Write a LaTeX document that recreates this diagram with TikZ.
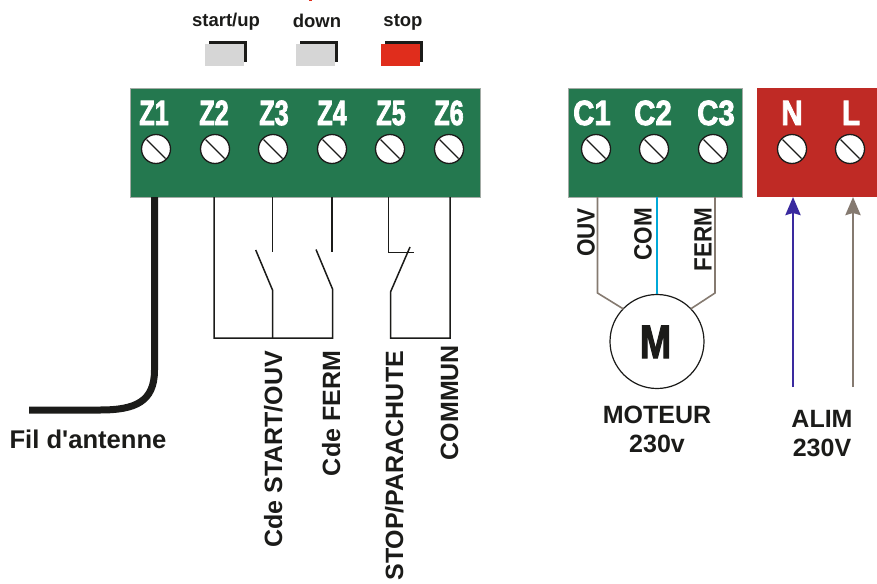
\documentclass[tikz,border=0pt]{standalone}
\usepackage{fontspec}
\setmainfont{Liberation Sans}
\newfontfamily\heavy[FakeBold=2.6]{Liberation Sans Bold}
\newfontfamily\plainbold{Liberation Sans Bold}
\usetikzlibrary{arrows.meta,calc}
\definecolor{bgreen}{HTML}{24784F}
\definecolor{bred}{HTML}{BF2A25}
\definecolor{bedge}{HTML}{A3ABA5}
\definecolor{ink}{HTML}{1B1B19}
\definecolor{btngrey}{HTML}{D6D6D6}
\definecolor{btnred}{HTML}{E02D1C}
\definecolor{wiregrey}{HTML}{857A70}
\definecolor{wirecyan}{HTML}{00A9D8}
\definecolor{wireblue}{HTML}{3A2A9F}
\newcommand{\fs}[1]{\fontsize{#1}{#1}\selectfont\bfseries}
\newcommand{\fh}[1]{\fontsize{#1}{#1}\selectfont\heavy}
\tikzset{
  block/.style={inner sep=0pt,outer sep=0pt,minimum height=109pt},
  screw/.style={circle,draw=ink,fill=white,line width=1.3pt,minimum size=29pt,inner sep=0pt,outer sep=0pt},
  tlabel/.style={anchor=base,inner sep=0pt,outer sep=0pt,text=white},
  lab/.style={anchor=base,inner sep=0pt,outer sep=0pt,text=ink},
  vlab/.style={rotate=90,anchor=base east,inner sep=0pt,outer sep=0pt,text=ink},
  sw/.style={draw=ink,line width=1.5pt,line join=miter},
  mwire/.style={draw=wiregrey,line width=1.6pt},
  feed/.style={line width=2.8pt,-{Stealth[length=18pt,width=15pt,inset=2pt]}},
  btnback/.style={draw=ink,line width=3pt},
}
\begin{document}
\begin{tikzpicture}[x=1pt,y=-1pt]
\useasboundingbox (0,0) rectangle (877,583);
% tiny red mark at the top edge
\fill[btnred] (309,0) rectangle (312,1);
% terminal blocks
\node[block,draw=bedge,line width=.9pt,fill=bgreen,minimum width=350pt] (zb) at (305,142.5) {};
\node[block,draw=bedge,line width=.9pt,fill=bgreen,minimum width=174pt] (cb) at (655,142.5) {};
\node[block,fill=bred,minimum width=120pt] (rb) at (817,142.5) {};
% screws
\foreach \n/\x in {z1/156,z2/215,z3/273,z4/332,z5/390,z6/449,c1/596,c2/654,c3/713,n/792,l/850}{
  \node[screw] (\n) at (\x,149) {};
  \draw[ink,line width=1.3pt] ($(\n.center)+(-9.5,-9.5)$) -- ($(\n.center)+(9.5,9.5)$);
}
% terminal labels
\foreach \t/\x in {Z1/154,Z2/214,Z3/274,Z4/332,Z5/391,Z6/449}{
  \node[tlabel,font=\fh{35}] (l\t) at (\x,125) {\scalebox{.72}[1]{\t}};
}
\foreach \t/\x in {C1/592,C2/653,C3/716}{
  \node[tlabel,font=\fh{35}] (l\t) at (\x,125) {\scalebox{.84}[1]{\t}};
}
\node[tlabel,font=\fh{35}] (lN) at (792,125) {\scalebox{.85}[1]{N}};
\node[tlabel,font=\fh{35}] (lL) at (851,125) {\scalebox{.85}[1]{L}};
% buttons
\foreach \n/\x/\c in {a/205/btngrey,b/296/btngrey,c/381/btnred}{
  \coordinate (\n1) at ({\x+4},42.5);
  \coordinate (\n2) at ({\x+40.5},42.5);
  \coordinate (\n3) at ({\x+40.5},62);
  \draw[btnback] (\n1) -- (\n2) -- (\n3);
  \node[fill=\c,inner sep=0pt,outer sep=0pt,minimum width=38.5pt,minimum height=22pt,anchor=north west] (\n f) at (\x,44) {};
}
\node[lab,font=\fs{18.5}] (ta) at (226,26.7) {start/up};
\node[lab,font=\fs{18.5}] (tb) at (317,28) {down};
\node[lab,font=\fs{18.5}] (tc) at (403,27) {stop};
% wire abscissae
\foreach \n/\x in {xa/154.5,x2/214,x3/272.5,x4/332,x5/388.5,x6/450,xo/597.5,xc/656.7,xf/715}{
  \coordinate (\n) at (\x,0);
}
% antenna
\coordinate (ant) at (29,410);
\draw[ink,line width=7pt] (xa |- zb.south) -- (154.5,370) .. controls (154.5,402) and (135,410) .. (100,410) -- (ant);
\node[lab,font=\fontsize{25.6}{25.6}\selectfont\plainbold] (tant) at (88,448) {Fil d'antenne};
% switches
\coordinate (corner1) at (214,338);
\coordinate (corner2) at (332.5,338);
\coordinate (p3) at (272.5,290);
\coordinate (p3b) at (272.5,338);
\coordinate (p4) at (332.5,289);
\draw[sw] (x2 |- zb.south) -- (corner1) -- (corner2) -- (p4) -- (316,249.5);
\draw[sw] (x3 |- zb.south) -- (272.5,252);
\draw[sw] (p3b) -- (p3) -- (255.7,250);
\draw[sw] (x4 |- zb.south) -- (332,252);
\draw[sw] (x5 |- zb.south) -- (388.5,252.5) -- (413.5,252.5);
\draw[sw] (410,247) -- (390.5,292) -- (390.5,338) -- (450,338) -- (x6 |- zb.south);
% vertical labels
\node[vlab,font=\fs{25}] (v1) at (282,351) {Cde START/OUV};
\node[vlab,font=\fs{25}] (v2) at (340,351) {Cde FERM};
\node[vlab,font=\fs{25}] (v3) at (403,351) {STOP/PARACHUTE};
\node[vlab,font=\fs{25}] (v4) at (458,345) {COMMUN};
% motor
\node[circle,draw=ink,line width=1.2pt,minimum size=94pt,inner sep=0pt,outer sep=0pt] (mot) at (657,341.5) {};
\node[lab,font=\fh{47}] (mm) at (655.5,358) {\scalebox{.8}[1]{M}};
\draw[mwire] (xo |- cb.south) -- (597.5,293) -- (mot.136);
\draw[mwire] (xf |- cb.south) -- (715,293) -- (mot.44);
\draw[wirecyan,line width=1.7pt] (xc |- cb.south) -- (656.7,294);
\node[vlab,font=\fs{25}] (o1) at (594.5,208) {\scalebox{.9}[1]{OUV}};
\node[vlab,font=\fs{25}] (o2) at (651.7,208) {\scalebox{.9}[1]{COM}};
\node[vlab,font=\fs{25}] (o3) at (711.7,208) {\scalebox{.9}[1]{FERM}};
\node[lab,font=\fs{25}] (tm1) at (657,423) {MOTEUR};
\node[lab,font=\fs{25}] (tm2) at (657,452) {230v};
% supply
\coordinate (nf) at (793,387);
\coordinate (lf) at (853,387);
\draw[feed,wireblue] (nf) -- (nf |- rb.south);
\draw[feed,wiregrey] (lf) -- (lf |- rb.south);
\node[lab,font=\fs{25}] (ta1) at (822,427) {ALIM};
\node[lab,font=\fs{25}] (ta2) at (822,456) {230V};
\end{tikzpicture}
\end{document}
